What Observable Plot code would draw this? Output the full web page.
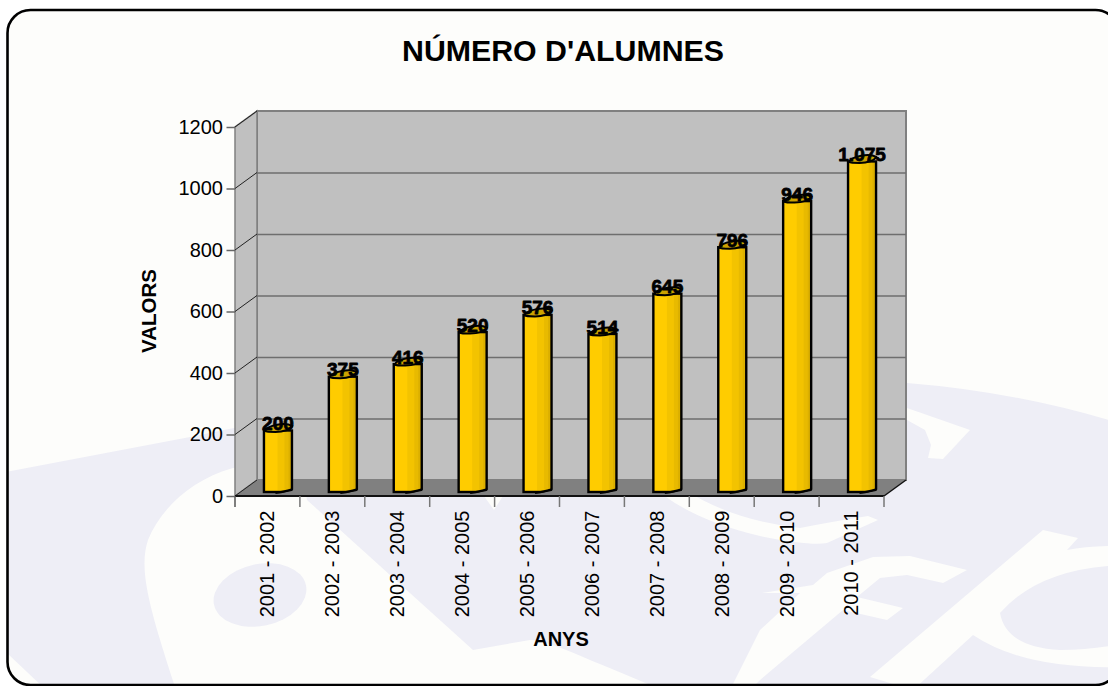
<!DOCTYPE html>
<html lang="ca">
<head>
<meta charset="utf-8">
<script src="https://cdn.jsdelivr.net/npm/d3@7"></script>
<script src="https://cdn.jsdelivr.net/npm/@observablehq/plot@0.6"></script>
<style>
html,body{margin:0;padding:0;background:#fff;overflow:hidden}
#stage{position:relative;width:1108px;height:686px;overflow:hidden}
#backdrop{position:absolute;left:0;top:0}
#chart{position:absolute;left:0;top:0}
</style>
</head>
<body>
<div id="stage">
<svg id="backdrop" width="1108" height="686" viewBox="0 0 1108 686">
  <defs><clipPath id="card"><rect x="7.5" y="10" width="1111" height="675" rx="23"/></clipPath></defs>
  <g clip-path="url(#card)">
    <rect x="0" y="0" width="1120" height="690" fill="#fdfdfb"/>
    <path fill="#eeeef6" d="M0,473 L190,437 Q550,360 907,383 Q1020,392 1125,425 L1125,700 L0,700 Z"/>
    <g fill="#fdfdfb">
      <path d="M233,468 C190,480 160,510 148,540 C138,570 150,610 176,690 L662,690 Q610,668 590,660 Q545,640 530,640 L473,650 L307,500 L300,460 Z"/>
      <path d="M0,648 L8,654 L46,690 L0,690 Z"/>
      <path d="M484,496 L494,510 L503,496 Z"/>
      <path d="M663,495 Q700,522 760,536 Q810,546 827,543 L878,520 L868,516 Q830,522 800,528 Q730,520 682,488 Z"/>
      <path d="M907,408 L970,430 L943,459 L928,458 L931,445 L925,430 L907,420 Z"/>
      <path d="M760,630 L800,593 L762,593 L813,585 L827,573 L873,557 L910,556 L967,570 L943,583 L907,575 L880,578 L857,597 L903,608 L887,620 L843,610 L760,680 L740,700 L725,700 Z"/>
      <path d="M870,677 L1043,530 L1078,538 L1067,550 Q1090,545 1125,546 L1125,565 Q1040,567 1000,613 Q1006,647 1060,650 Q1095,650 1125,643 L1125,667 Q1025,670 973,635 L913,690 Z"/>
    </g>
    <ellipse cx="260" cy="595" rx="47" ry="31" fill="#eeeef6" transform="rotate(-12 260 595)"/>
  </g>
  <rect x="7.5" y="10" width="1111" height="675" rx="23" fill="none" stroke="#000" stroke-width="2.6"/>
</svg>
<div id="chart"></div>
</div>
<script>
const years = ["2001 - 2002","2002 - 2003","2003 - 2004","2004 - 2005","2005 - 2006","2006 - 2007","2007 - 2008","2008 - 2009","2009 - 2010","2010 - 2011"];
const students = [200,375,416,520,576,514,645,796,946,1075];
const valueLabels = ["200","375","416","520","576","514","645","796","946","1.075"];
const yTicks = [0,200,400,600,800,1000,1200];
const chartTitle = "NÚMERO D'ALUMNES";
const yTitle = "VALORS";
const xTitle = "ANYS";

const rows = years.map((year,i)=>({year,value:students[i],label:valueLabels[i]}));
const font = "'Liberation Sans', Arial, sans-serif";
const depthX = 22, frontDy = 4, backDy = -12, barDx = 10.5;
const inset = (l,r)=>({insetLeft:l,insetRight:r,dx:barDx});

const bar = (fill,l,r)=>Plot.barY(rows,{x:"year",y:"value",fill,...inset(l,r)});

const topSymbol = {draw(c){c.moveTo(-13.5,0);c.bezierCurveTo(-11,-6,7,-9,13.7,-5);c.bezierCurveTo(12,-1.5,5,1,-3,1);c.bezierCurveTo(-8,1,-12,1,-13.5,0);c.closePath();}};
const footPatch = {draw(c){c.moveTo(-3,1.2);c.bezierCurveTo(4,1.2,9,-1,15.5,-3);c.lineTo(17,2.5);c.lineTo(-3,2.5);c.closePath();}};
const footLine = {draw(c){c.moveTo(-3,0.2);c.bezierCurveTo(4,0.2,9,-2,14,-3);}};

// 3D chart furniture, positioned from the scales
function walls(index,{x,y},values,dim){
  const g = d3.create("svg:g");
  const L = dim.marginLeft, R = dim.width-dim.marginRight;
  const f0 = y(0)+frontDy, b0 = y(0)+backDy, f1 = y(1200)+frontDy, b1 = y(1200)+backDy;
  const poly = (pts,fill,stroke,w)=>g.append("polygon").attr("points",pts.map(p=>p.join(",")).join(" ")).attr("fill",fill).attr("stroke",stroke).attr("stroke-width",w);
  poly([[L+depthX,b1],[R+depthX,b1],[R+depthX,b0],[L+depthX,b0]],"#c0c0c0","#808080",2);
  poly([[L,f0],[L+depthX,b0],[L+depthX,b1],[L,f1]],"#c0c0c0","#808080",1.5);
  poly([[L,f0],[R,f0],[R+depthX,b0],[L+depthX,b0]],"#808080","none",0);
  return g.node();
}
function frontLines(index,{x,y},values,dim){
  const g = d3.create("svg:g");
  const L = dim.marginLeft, R = dim.width-dim.marginRight;
  const f0 = y(0)+frontDy, b0 = y(0)+backDy;
  const line = (a,b,c,d,s,w)=>g.append("line").attr("x1",a).attr("y1",b).attr("x2",c).attr("y2",d).attr("stroke",s).attr("stroke-width",w);
  yTicks.forEach(t=>line(L,y(t)+frontDy,L+depthX,y(t)+backDy,"#222",1));
  line(L,f0,R,f0,"#111",2);
  line(R,f0,R+depthX,b0,"#111",1.4);
  line(L,f0,L,f0+11,"#555",1.5);
  years.forEach(d=>line(x(d)+x.bandwidth(),f0,x(d)+x.bandwidth(),f0+11,"#777",1.5));
  return g.node();
}

const plot = Plot.plot({
  width:1108,height:686,
  marginLeft:235,marginRight:224,marginTop:123,marginBottom:194,
  style:{background:"transparent",fontFamily:font,color:"#000",overflow:"visible"},
  x:{type:"band",domain:years,padding:0,round:false,axis:null},
  y:{domain:[0,1200],axis:null},
  marks:[
    walls,
    Plot.ruleY(yTicks.slice(1,-1),{y:d=>d,dx:depthX,dy:backDy,stroke:"#6e6e6e",strokeWidth:1.6}),
    frontLines,
    Plot.axisY({ticks:yTicks,tickFormat:"d",tickSize:8.5,tickPadding:4,dy:frontDy,fontSize:20,stroke:"#666",strokeWidth:1.5,fill:"#000",label:null}),
    Plot.axisX({tickSize:0,tickRotate:-90,tickPadding:18,fontSize:20,fill:"#000",label:null}),
    bar("#ffcc00",18.45,18.45),
    bar("#f3c300",32,18.45),
    bar("#e8ba00",39,18.45),
    bar("#dcb000",43,18.45),
    Plot.barY(rows,{x:"year",y:"value",fill:"none",stroke:"#000",strokeWidth:2.4,...inset(18.45,18.45)}),
    Plot.dot(rows,{x:"year",y:()=>0,r:1,dx:barDx,symbol:()=>footPatch,fill:"#808080",stroke:"none"}),
    Plot.dot(rows,{x:"year",y:()=>0,r:1,dx:barDx,symbol:()=>footLine,fill:"none",stroke:"#000",strokeWidth:2.4}),
    Plot.dot(rows,{x:"year",y:"value",r:1,dx:barDx,symbol:()=>topSymbol,fill:"#cba200",stroke:"#000",strokeWidth:2}),
    Plot.text(rows,{x:"year",y:"value",text:"label",dx:barDx-0.5,dy:-7,fontSize:19,fontWeight:"bold",fill:"#000",stroke:"#000",strokeWidth:0.8}),
    Plot.text([chartTitle],{frameAnchor:"top",lineAnchor:"middle",dx:3,dy:-72,fontSize:30.3,fontWeight:"bold",fill:"#000"}),
    Plot.text([yTitle],{frameAnchor:"left",textAnchor:"middle",dx:-86,dy:3,rotate:-90,fontSize:20.5,fontWeight:"bold",fill:"#000"}),
    Plot.text([xTitle],{frameAnchor:"bottom",lineAnchor:"middle",dx:1,dy:147,fontSize:20,fontWeight:"bold",fill:"#000"})
  ]
});
document.getElementById("chart").appendChild(plot);
</script>
</body>
</html>
